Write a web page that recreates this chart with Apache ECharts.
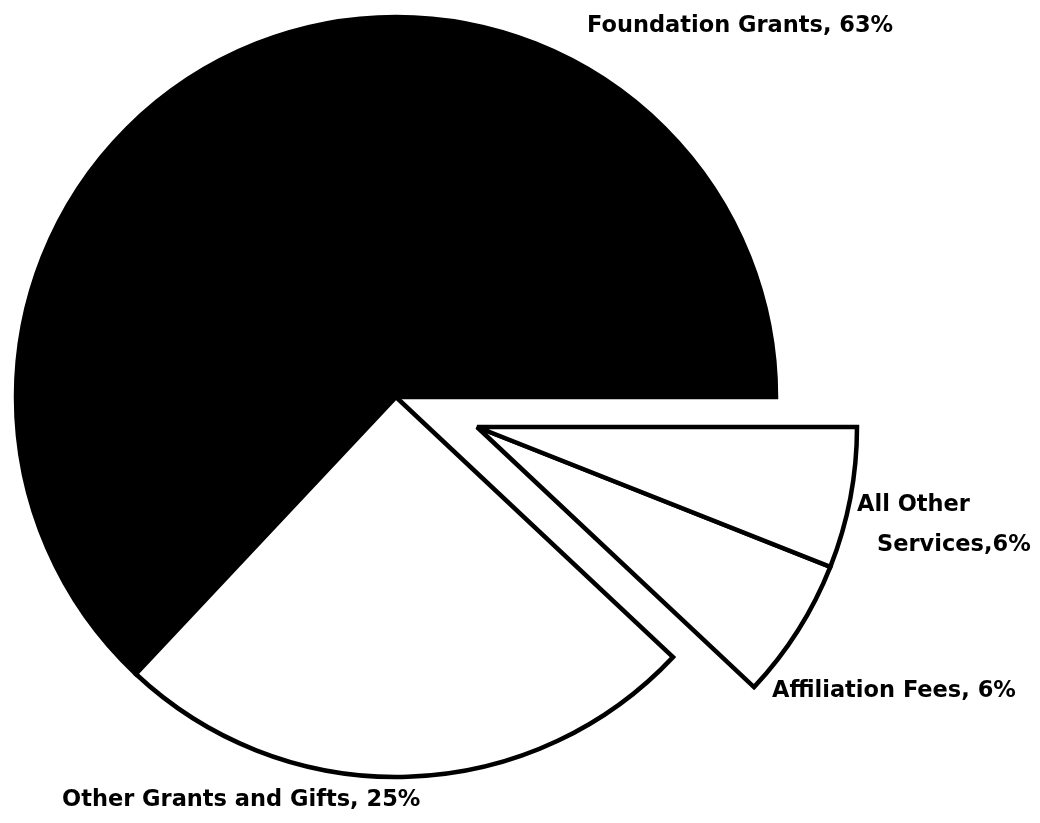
<!DOCTYPE html>
<html>
<head>
<meta charset="utf-8">
<style>
  html, body { margin: 0; padding: 0; background: #ffffff; }
  #chart { width: 1040px; height: 823px; }
</style>
<script src="https://cdn.jsdelivr.net/npm/echarts@6/dist/echarts.min.js"></script>
</head>
<body>
<div id="chart"></div>
<script>
// Sources of income, share of total (%)
const categories = ['Foundation Grants', 'Other Grants and Gifts', 'Affiliation Fees', 'All Other Services'];
const shares = [63, 25, 6, 6];
// Which slices sit in the pulled-out wedge
const pulledOut = [false, false, true, true];
// Slice fills
const fills = ['#000000', '#ffffff', '#ffffff', '#ffffff'];

const FONT = '"DejaVu Sans", "Liberation Sans", sans-serif';
const FONT_SIZE = 22.5;
const RADIUS = 380;

// Label anchor points (left edge, vertical middle), by data index
const labelSpots = [
  { x: 587, y: 26 },
  { x: 62, y: 800 },
  { x: 772, y: 691 },
  { x: 857, y: 525 }
];

function labelText(i) {
  if (i === 3) {
    const words = categories[i].split(' ');
    return '{l1|' + words.slice(0, 2).join(' ') + '}\n{l2|' + words.slice(2).join(' ') + ',' + shares[i] + '%}';
  }
  return categories[i] + ', ' + shares[i] + '%';
}

function buildData(showPulled) {
  return categories.map((name, i) => {
    const visible = pulledOut[i] === showPulled;
    return {
      name: name,
      value: shares[i],
      itemStyle: visible
        ? { color: fills[i], borderColor: '#000000', borderWidth: 4.5, borderJoin: 'miter', borderMiterLimit: 3 }
        : { color: 'rgba(0,0,0,0)', borderWidth: 0 },
      label: { show: visible, formatter: labelText(i) }
    };
  });
}

const textStyle = { fontFamily: FONT, fontWeight: 'bold', fontSize: FONT_SIZE, color: '#000000' };

const sharedSeries = {
  type: 'pie',
  radius: RADIUS,
  startAngle: 0,
  clockwise: false,
  silent: true,
  avoidLabelOverlap: false,
  animation: false,
  label: Object.assign({
    position: 'outside',
    rich: {
      l1: Object.assign({ lineHeight: 40 }, textStyle),
      l2: Object.assign({ lineHeight: 40, padding: [0, 0, 0, 20] }, textStyle)
    }
  }, textStyle),
  labelLine: { show: false },
  emphasis: { disabled: true },
  labelLayout: function (p) {
    const s = labelSpots[p.dataIndex];
    return { x: s.x, y: s.y, align: 'left', verticalAlign: 'middle' };
  }
};

const chart = echarts.init(document.getElementById('chart'), null, { renderer: 'canvas' });
chart.setOption({
  backgroundColor: '#ffffff',
  series: [
    Object.assign({}, sharedSeries, { center: [396, 397], data: buildData(false) }),
    Object.assign({}, sharedSeries, { center: [477, 427], data: buildData(true) })
  ]
});
</script>
</body>
</html>
